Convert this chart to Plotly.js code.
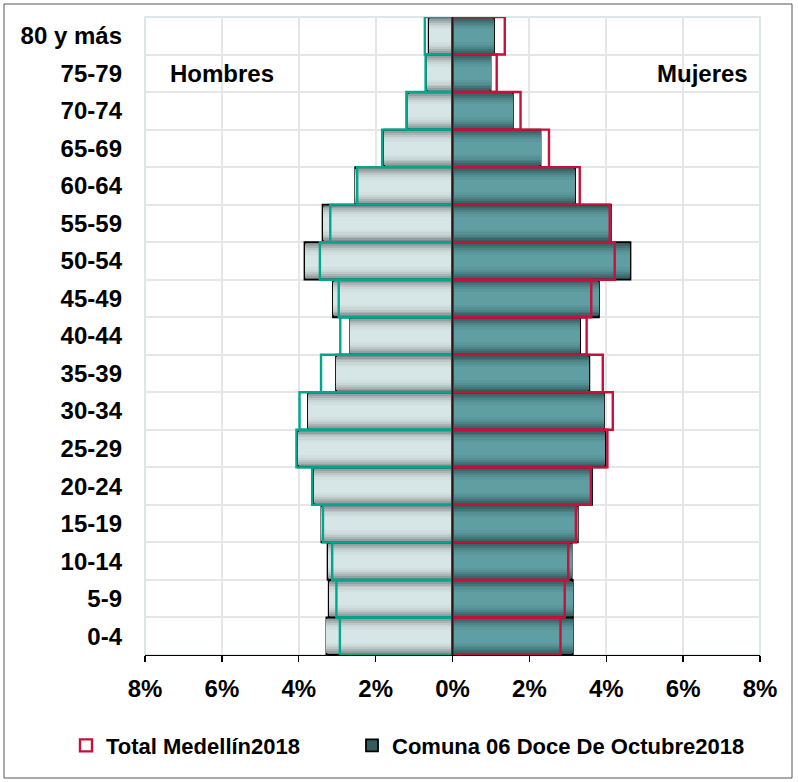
<!DOCTYPE html>
<html>
<head>
<meta charset="utf-8">
<script src="https://cdn.plot.ly/plotly-3.0.1.min.js"></script>
<style>
html,body{margin:0;padding:0;background:#fff;}
#chart{width:798px;height:782px;}
</style>
</head>
<body>
<div id="chart"></div>
<script>
// Age groups (bottom to top)
var ageGroups = ['0-4','5-9','10-14','15-19','20-24','25-29','30-34','35-39','40-44','45-49','50-54','55-59','60-64','65-69','70-74','75-79','80 y más'];

// Percent of population, Comuna 06 Doce De Octubre 2018
var comunaHombres = [3.28, 3.22, 3.25, 3.41, 3.61, 4.02, 3.76, 3.03, 2.66, 3.11, 3.85, 3.38, 2.53, 1.78, 1.15, 0.66, 0.62];
var comunaMujeres = [3.13, 3.13, 3.10, 3.26, 3.63, 3.98, 3.94, 3.56, 3.32, 3.81, 4.63, 4.12, 3.19, 2.29, 1.57, 0.99, 1.08];

// Percent of population, Total Medellín 2018
var medellinHombres = [2.93, 3.02, 3.13, 3.37, 3.65, 4.06, 3.98, 3.42, 2.92, 2.96, 3.45, 3.18, 2.48, 1.83, 1.20, 0.70, 0.72];
var medellinMujeres = [2.81, 2.92, 3.01, 3.21, 3.60, 4.03, 4.17, 3.91, 3.49, 3.61, 4.22, 4.09, 3.31, 2.51, 1.77, 1.15, 1.36];

var xTickVals = [-8,-6,-4,-2,0,2,4,6,8];
var xTickText = ['8%','6%','4%','2%','0%','2%','4%','6%','8%'];

var yIdx = ageGroups.map(function(_, i){ return i; });
var neg = function(a){ return a.map(function(v){ return -v; }); };

var FONT = 'Liberation Sans, Arial, sans-serif';

// cylinder-like shading layers: [bar width, colour]
var maleLayers = [[1.0,'#7f8787'],[0.9,'#969f9f'],[0.8,'#aab4b4'],[0.7,'#bcc8c8'],[0.6,'#c9d6d6'],[0.48,'#d1dfdf'],[0.34,'#d6e5e5']];
var femaleLayers = [[1.0,'#345b5d'],[0.9,'#3b6668'],[0.8,'#437478'],[0.7,'#4c8387'],[0.6,'#558f93'],[0.48,'#5b989c'],[0.34,'#5f9ea2']];

var traces = [];
function addShaded(values, layers, name, showLegend){
  layers.forEach(function(l, k){
    traces.push({
      type:'bar', orientation:'h', y:yIdx, x:values, width:l[0],
      name:name, showlegend: showLegend && k===0, legend:'legend2',
      marker:{color: l[1],
              line:{color: k===0 ? '#000000' : 'rgba(0,0,0,0)', width: k===0 ? 1.8 : 0}},
      hoverinfo:'skip'
    });
  });
}
addShaded(neg(comunaHombres), maleLayers, 'Comuna 06 Doce De Octubre2018 H', false);
addShaded(comunaMujeres, femaleLayers, 'Comuna 06 Doce De Octubre2018', true);

traces.push({
  type:'bar', orientation:'h', y:yIdx, x:neg(medellinHombres), width:1,
  name:'Total Medellín2018 H', showlegend:false,
  marker:{color:'rgba(0,0,0,0)', line:{color:'#00a68e', width:2.4}}, hoverinfo:'skip'
});
traces.push({
  type:'bar', orientation:'h', y:yIdx, x:medellinMujeres, width:1,
  name:'Total Medellín2018', showlegend:true, legend:'legend',
  marker:{color:'rgba(0,0,0,0)', line:{color:'#c8103c', width:2.4}}, hoverinfo:'skip'
});

var minorVals = [];
for (var i = 0; i <= ageGroups.length; i++) minorVals.push(i - 0.5);

var legendFont = {family:FONT, size:22, weight:'bold', color:'#000'};

var layout = {
  width:798, height:782,
  paper_bgcolor:'#ffffff', plot_bgcolor:'#ffffff',
  margin:{l:145, r:38, t:17, b:127},
  barmode:'overlay',
  bargap:0,
  showlegend:true,
  font:{family:FONT, color:'#000000'},
  xaxis:{
    range:[-8,8], tickvals:xTickVals, ticktext:xTickText,
    tickfont:{family:FONT, size:24, weight:'bold', color:'#000'},
    showgrid:true, gridcolor:'#e6e6e6', gridwidth:2,
    zeroline:false,
    showline:true, linecolor:'#000000', linewidth:1.3,
    ticks:'outside', ticklen:6, tickcolor:'#000000', tickwidth:1.3,
    ticklabelstandoff:6,
    fixedrange:true
  },
  yaxis:{
    range:[-0.5, ageGroups.length-0.5],
    tickvals:yIdx, ticktext:ageGroups,
    tickfont:{family:FONT, size:24, weight:'bold', color:'#000'},
    showgrid:false, zeroline:false, showline:false,
    ticks:'', ticklabelstandoff:22,
    minor:{tickvals:minorVals, showgrid:true, gridcolor:'#e6e6e6', gridwidth:2, ticks:''},
    fixedrange:true
  },
  legend:{
    orientation:'h', x:(66-145)/615, xanchor:'left', y:-0.142, yanchor:'middle',
    font:legendFont, itemwidth:30, bgcolor:'rgba(0,0,0,0)'
  },
  legend2:{
    orientation:'h', x:(352-145)/615, xanchor:'left', y:-0.142, yanchor:'middle',
    font:legendFont, itemwidth:30, bgcolor:'rgba(0,0,0,0)'
  },
  shapes:[
    {type:'rect', xref:'paper', yref:'paper', x0:0, x1:1, y0:0, y1:1,
     line:{color:'#d2e0e0', width:1.5}, layer:'below'},
    {type:'line', xref:'x', yref:'paper', x0:0, x1:0, y0:0, y1:1,
     line:{color:'#2a1418', width:1.6}, layer:'above'},
    {type:'rect', xref:'paper', yref:'paper',
     x0:(4-145)/615, x1:(792-145)/615, y0:(655-778)/638, y1:1+(17-4)/638,
     line:{color:'#555555', width:1}, layer:'below'}
  ],
  annotations:[
    {x:-6, y:15, xref:'x', yref:'y', text:'Hombres', showarrow:false, xanchor:'center',
     font:{family:FONT, size:24, weight:'bold', color:'#000'}},
    {x:7.75, y:15, xref:'x', yref:'y', text:'Mujeres', showarrow:false, xanchor:'right',
     font:{family:FONT, size:24, weight:'bold', color:'#000'}}
  ]
};

Plotly.newPlot('chart', traces, layout, {displayModeBar:false, staticPlot:true});
</script>
</body>
</html>
